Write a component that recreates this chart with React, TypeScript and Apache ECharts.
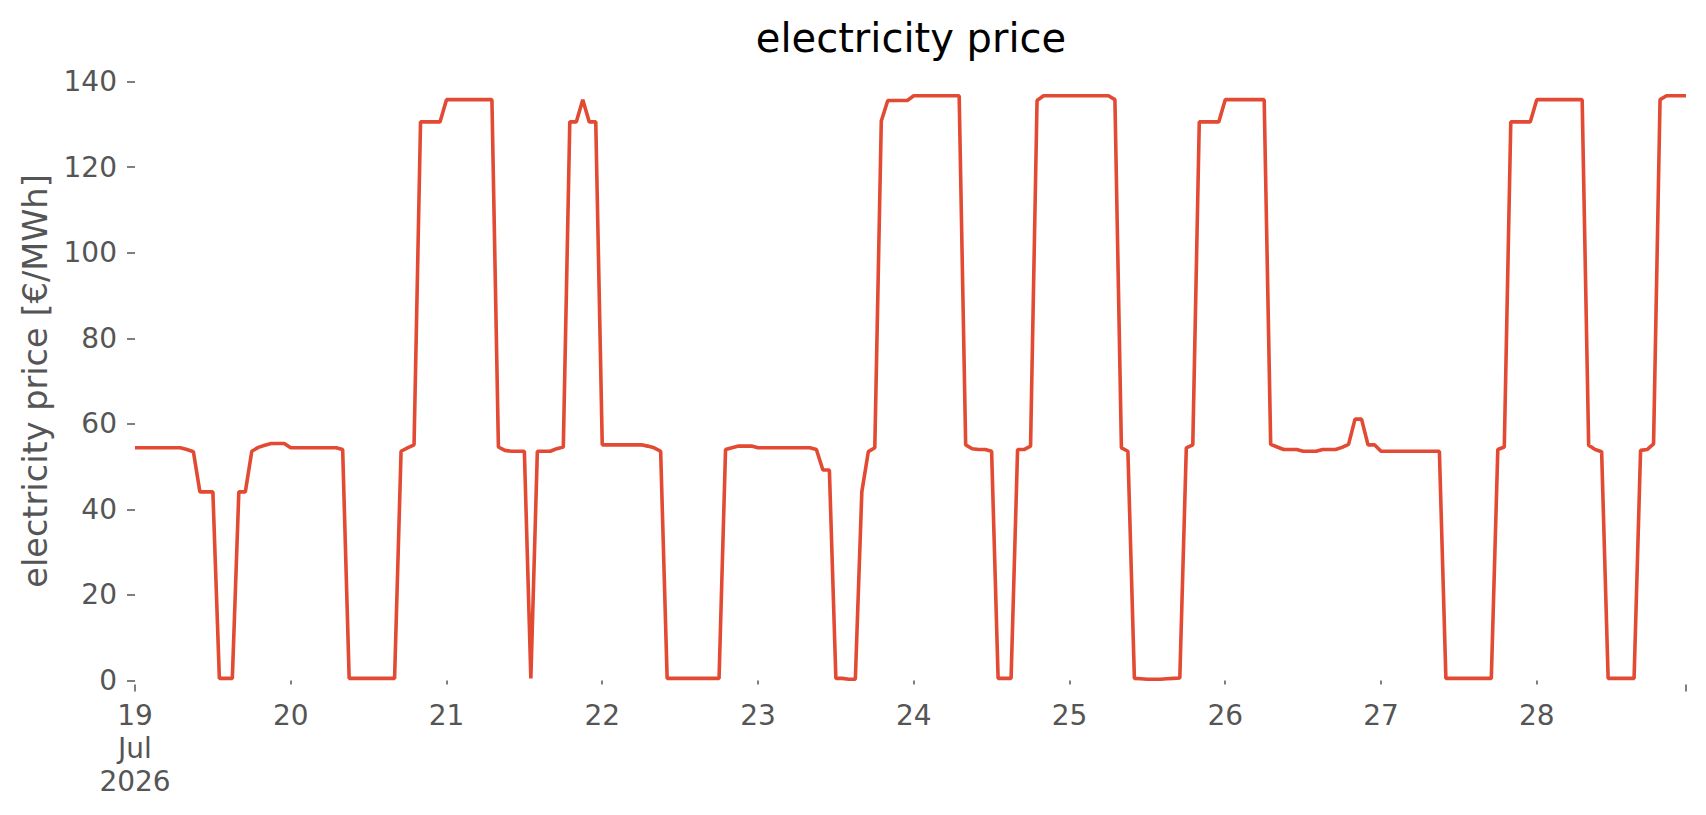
import { useEffect, useRef } from 'react';
import * as echarts from 'echarts';

// hourly day-ahead price, 19 Jul 2026 00:00 .. 28 Jul 2026 23:00
const days = [19, 20, 21, 22, 23, 24, 25, 26, 27, 28];
const monthLabel = 'Jul';
const yearLabel = '2026';

const jul19 = [54.4, 54.4, 54.4, 54.4, 54.4, 54.4, 54.4, 54.4, 54.0, 53.5, 44.1, 44.1, 44.1, 0.5, 0.5, 0.5, 44.1, 44.1, 53.6, 54.5, 55.0, 55.4, 55.4, 55.4];
const jul20 = [54.4, 54.4, 54.4, 54.4, 54.4, 54.4, 54.4, 54.4, 54.0, 0.5, 0.5, 0.5, 0.5, 0.5, 0.5, 0.5, 0.5, 53.6, 54.4, 55.1, 130.6, 130.6, 130.6, 130.6];
const jul21 = [135.8, 135.8, 135.8, 135.8, 135.8, 135.8, 135.8, 135.8, 54.6, 53.8, 53.6, 53.6, 53.6, 0.5, 53.6, 53.6, 53.6, 54.2, 54.6, 130.6, 130.6, 135.8, 130.6, 130.6];
const jul22 = [55.1, 55.1, 55.1, 55.1, 55.1, 55.1, 55.1, 54.8, 54.4, 53.6, 0.5, 0.5, 0.5, 0.5, 0.5, 0.5, 0.5, 0.5, 0.5, 54.0, 54.4, 54.8, 54.8, 54.8];
const jul23 = [54.4, 54.4, 54.4, 54.4, 54.4, 54.4, 54.4, 54.4, 54.4, 54.0, 49.2, 49.2, 0.5, 0.5, 0.3, 0.3, 44.1, 53.5, 54.4, 130.8, 135.6, 135.6, 135.6, 135.6];
const jul24 = [136.7, 136.7, 136.7, 136.7, 136.7, 136.7, 136.7, 136.7, 55.1, 54.2, 54.0, 54.0, 53.6, 0.5, 0.5, 0.5, 54.0, 54.0, 54.8, 135.6, 136.7, 136.7, 136.7, 136.7];
const jul25 = [136.7, 136.7, 136.7, 136.7, 136.7, 136.7, 136.7, 135.8, 54.4, 53.6, 0.5, 0.4, 0.3, 0.3, 0.3, 0.4, 0.5, 0.6, 54.4, 55.1, 130.6, 130.6, 130.6, 130.6];
const jul26 = [135.8, 135.8, 135.8, 135.8, 135.8, 135.8, 135.8, 55.2, 54.6, 54.0, 54.0, 54.0, 53.6, 53.6, 53.6, 54.0, 54.0, 54.0, 54.5, 55.2, 61.1, 61.1, 55.1, 55.1];
const jul27 = [53.6, 53.6, 53.6, 53.6, 53.6, 53.6, 53.6, 53.6, 53.6, 53.6, 0.5, 0.5, 0.5, 0.5, 0.5, 0.5, 0.5, 0.5, 54.0, 54.6, 130.6, 130.6, 130.6, 130.6];
const jul28 = [135.8, 135.8, 135.8, 135.8, 135.8, 135.8, 135.8, 135.8, 55.0, 54.0, 53.5, 0.5, 0.5, 0.5, 0.5, 0.5, 53.8, 54.0, 55.3, 135.8, 136.7, 136.7, 136.7, 136.7];

const prices = [...jul19, ...jul20, ...jul21, ...jul22, ...jul23, ...jul24, ...jul25, ...jul26, ...jul27, ...jul28];

const hours = days.flatMap((d) =>
  Array.from({ length: 24 }, (_, h) => `2026-07-${d} ${String(h).padStart(2, '0')}:00`)
);

const FONT = '"DejaVu Sans", sans-serif';
const GREY = '#555555';

export default function App() {
  const chartRef = useRef<HTMLDivElement>(null);
  useEffect(() => {
    if (!chartRef.current) return;
    const chart = echarts.init(chartRef.current, undefined, { renderer: 'svg' });
    const last = hours.length - 1;
    chart.setOption({
      animation: false,
      backgroundColor: '#ffffff',
      grid: { left: 135, right: 20, top: 81.7, bottom: 134.5, containLabel: false },
      graphic: [
        {
          type: 'text',
          x: 911,
          y: 38,
          style: {
            text: 'electricity price',
            fontSize: 40,
            fontFamily: FONT,
            fill: '#000000',
            align: 'center',
            verticalAlign: 'middle',
          },
        },
        {
          // y axis title, centred on the plot height like matplotlib does
          type: 'text',
          x: 35,
          y: 381,
          rotation: Math.PI / 2,
          style: {
            text: 'electricity price [€/MWh]',
            fontSize: 33.6,
            fontFamily: FONT,
            fill: GREY,
            align: 'center',
            verticalAlign: 'middle',
          },
        },
      ],
      xAxis: [
        {
          type: 'category',
          data: hours,
          boundaryGap: false,
          offset: 4,
          axisLine: { show: false },
          axisTick: {
            show: true,
            length: 4,
            interval: (i: number) => i % 24 === 0 && i !== 0,
            lineStyle: { color: GREY, width: 1.5 },
          },
          axisLabel: {
            interval: (i: number) => i % 24 === 0,
            formatter: (_v: string, i: number) =>
              i === 0 ? `${days[0]}\n${monthLabel}\n${yearLabel}` : `${days[Math.floor(i / 24)]}`,
            margin: 14,
            fontSize: 28,
            lineHeight: 33,
            color: GREY,
            fontFamily: FONT,
          },
          splitLine: { show: false },
        },
        {
          type: 'category',
          data: hours,
          boundaryGap: false,
          position: 'bottom',
          offset: 4,
          axisLine: { show: false },
          axisTick: {
            show: true,
            length: 7,
            interval: (i: number) => i === 0 || i === last,
            lineStyle: { color: GREY, width: 1.5 },
          },
          axisLabel: { show: false },
          splitLine: { show: false },
        },
      ],
      yAxis: {
        type: 'value',
        min: 0,
        max: 140,
        interval: 20,
        axisLine: { show: false },
        axisTick: { show: true, length: 8, lineStyle: { color: GREY, width: 1.5 } },
        axisLabel: { margin: 18, fontSize: 28, color: GREY, fontFamily: FONT },
        splitLine: { show: false },
      },
      series: [
        {
          type: 'line',
          data: prices,
          showSymbol: false,
          symbol: 'none',
          lineStyle: { color: '#E24A33', width: 3.6 },
          itemStyle: { color: '#E24A33' },
        },
      ],
    });
    return () => {
      chart.dispose();
    };
  }, []);
  return (
    <div
      ref={chartRef}
      style={{ position: 'fixed', left: 0, top: 0, width: 1706, height: 815, background: '#ffffff' }}
    />
  );
}
